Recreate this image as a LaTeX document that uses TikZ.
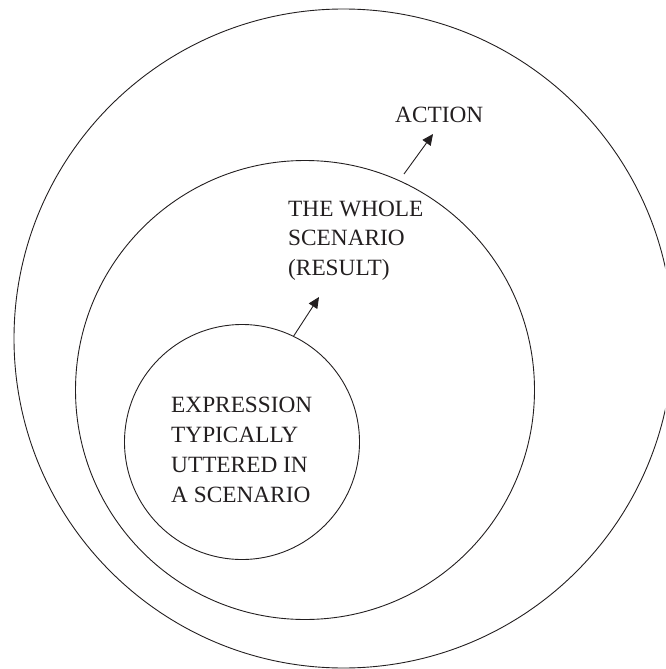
\documentclass[tikz,border=0pt]{standalone}
\usepackage{fontspec}
\setmainfont{Liberation Serif}
\usetikzlibrary{arrows.meta}
\definecolor{ink}{HTML}{231F20}
\begin{document}
\begin{tikzpicture}[x=1pt,y=-1pt,
  ring/.style={circle,draw=ink,line width=0.9pt,inner sep=0pt},
  label/.style={anchor=base west,inner sep=0pt,align=left,text=ink,
    font=\fontsize{23.3pt}{29.7pt}\selectfont},
  pointer/.style={draw=ink,line width=0.9pt,
    -{Triangle[length=11pt,width=10pt]}}]
  \useasboundingbox (0,0) rectangle (665,669);
  \clip (0,0) rectangle (665,669);

  % nested scopes
  \node[ring,minimum size=659pt] (outer) at (343.5,338.5) {};
  \node[ring,minimum size=459pt] (middle) at (305,390) {};
  \node[ring,minimum size=235pt] (inner) at (242,442) {};

  % labels (a multi-line node's base is its last line)
  \node[label] (action) at (395,122) {ACTION};
  \node[label] (whole) at (288,275.4) {THE WHOLE\\SCENARIO\\(RESULT)};
  \node[label] (expr) at (171,502) {EXPRESSION\\TYPICALLY\\UTTERED IN\\A SCENARIO};

  % arrow ends
  \coordinate (tipA) at (319,297);
  \coordinate (tailB) at (404,174);
  \coordinate (tipB) at (433,134);

  \draw[pointer] (inner.64.7) -- (tipA);
  \draw[pointer] (tailB) -- (tipB);
\end{tikzpicture}
\end{document}
